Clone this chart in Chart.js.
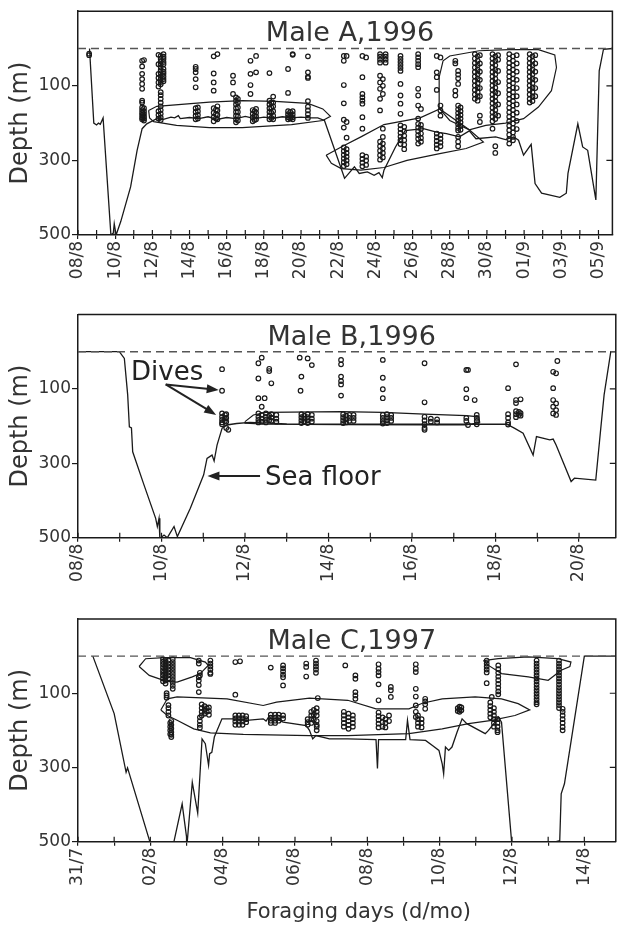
<!DOCTYPE html>
<html>
<head>
<meta charset="utf-8">
<script src="https://cdn.jsdelivr.net/npm/chart.js@4.4.1/dist/chart.umd.min.js"></script>
<style>
  body { margin: 0; background: #fff; width: 621px; height: 926px; position: relative; overflow: hidden; }
  canvas { position: absolute; left: 0; }
</style>
</head>
<body>
<canvas id="panelA" width="621" height="300" style="top:0"></canvas>
<canvas id="panelB" width="621" height="290" style="top:300px"></canvas>
<canvas id="panelC" width="621" height="336" style="top:590px"></canvas>
<script>
// ---- data ----
const yTicks = [100, 300, 500];

// x tick labels, one every 2 days (day 0 = first label)
const labelsA = ['08/8', '10/8', '12/8', '14/8', '16/8', '18/8', '20/8', '22/8', '24/8', '26/8', '28/8', '30/8', '01/9', '03/9', '05/9'];
const labelsB = ['08/8', '10/8', '12/8', '14/8', '16/8', '18/8', '20/8'];
const labelsC = ['31/7', '02/8', '04/8', '06/8', '08/8', '10/8', '12/8', '14/8'];

// sea floor depth [day, depth m]
const floorA = [[0.62, 0], [0.85, 200], [1.0, 205], [1.1, 200], [1.2, 203], [1.35, 186], [1.77, 500], [1.9, 495], [1.95, 470], [2.05, 500], [2.3, 464], [2.83, 371], [3.18, 273], [3.45, 215], [3.7, 202], [4.24, 188], [4.6, 190], [5.0, 184], [5.2, 186], [5.4, 180], [5.5, 188], [6.0, 185], [6.5, 188], [7.0, 183], [7.5, 190], [8.0, 185], [8.5, 188], [9.0, 182], [9.5, 188], [10.0, 184], [10.5, 187], [11.0, 183], [11.5, 186], [12.0, 184], [12.5, 186], [12.9, 186], [13.26, 193], [14.34, 348], [14.87, 317], [15.13, 335], [15.57, 331], [15.93, 340], [16.19, 333], [16.37, 346], [16.46, 326], [17.08, 264], [17.6, 220], [18.58, 215], [19.29, 224], [19.82, 228], [20.52, 237], [21.05, 221], [21.41, 242], [22.47, 237], [23.0, 244], [23.44, 237], [23.7, 246], [23.97, 286], [24.38, 257], [24.59, 362], [24.94, 388], [25.92, 399], [26.27, 388], [26.36, 335], [26.89, 202], [27.15, 264], [27.42, 273], [27.86, 406], [28.04, 60], [28.27, 2], [28.75, 0]];
const floorB = [[0, 0], [0.99, 0], [1.11, 18], [1.19, 116], [1.23, 202], [1.28, 205], [1.31, 269], [1.58, 358], [1.86, 448], [1.9, 470], [1.94, 448], [1.96, 502], [2.06, 493], [2.14, 500], [2.3, 470], [2.38, 497], [2.69, 421], [3.01, 331], [3.09, 287], [3.21, 278], [3.26, 294], [3.33, 251], [3.45, 206], [3.56, 197], [3.8, 193], [4.12, 190], [5.0, 194], [7.0, 195], [9.0, 195], [10.27, 195], [10.46, 206], [10.66, 219], [10.9, 278], [10.98, 228], [11.3, 237], [11.38, 235], [11.45, 251], [11.81, 349], [11.89, 340], [12.4, 345], [12.52, 206], [12.6, 116], [12.76, 0], [12.88, 0]];
const floorC = [[0.41, 0], [1.0, 155], [1.33, 313], [1.37, 301], [1.99, 501], [2.05, 560], [2.6, 560], [2.65, 501], [2.88, 398], [3.02, 501], [3.16, 340], [3.31, 423], [3.43, 223], [3.52, 236], [3.61, 294], [3.64, 263], [3.7, 259], [3.77, 218], [3.98, 169], [4.3, 169], [4.66, 173], [5.12, 169], [5.2, 175], [5.26, 166], [5.49, 169], [5.67, 178], [6.31, 187], [6.4, 200], [6.49, 223], [6.58, 214], [6.95, 223], [7.46, 223], [8.24, 225], [8.28, 303], [8.31, 225], [9.06, 225], [9.11, 173], [9.18, 225], [9.61, 227], [9.8, 241], [9.98, 254], [10.07, 290], [10.11, 317], [10.16, 245], [10.25, 254], [10.34, 245], [10.48, 205], [10.62, 169], [10.75, 182], [11.26, 209], [11.35, 200], [11.53, 178], [11.62, 164], [11.71, 178], [11.99, 501], [12.05, 560], [13.1, 560], [13.18, 501], [13.32, 497], [13.36, 371], [13.45, 344], [14.0, 0], [14.87, 0]];

// foraging area outlines [day, depth m]
const hullA1 = [[3.8, 166], [4.24, 155], [7.07, 144], [8.84, 140], [10.6, 142], [12.37, 147], [13.17, 162], [13.58, 182], [13.17, 193], [11.49, 204], [8.84, 212], [7.07, 212], [5.3, 206], [4.07, 196], [3.85, 186], [3.8, 166]];
const hullA2 = [[13.35, 286], [14.16, 264], [15.22, 237], [16.46, 204], [18.4, 186], [19.46, 162], [21.05, 218], [21.81, 251], [20.88, 268], [19.46, 282], [17.7, 300], [16.46, 319], [15.22, 326], [14.16, 322], [13.63, 308], [13.35, 286]];
const hullA3 = [[19.46, 162], [19.43, 77], [19.64, 33], [20.0, 20], [21.58, 6], [23.18, 3], [24.77, 3], [25.65, 17], [25.74, 51], [25.47, 113], [24.77, 157], [23.97, 188], [23.0, 200], [21.94, 206], [21.05, 218], [20.0, 193], [19.46, 162]];
const hullB = [[4.0, 188], [4.2, 170], [4.5, 163], [6.3, 161], [7.3, 163], [8.3, 168], [9.3, 172], [9.6, 175], [9.62, 190], [9.3, 197], [8.3, 197], [6.3, 196], [4.5, 195], [4.0, 192], [4.0, 188]];
const hullC1 = [[1.69, 28], [1.87, 7], [2.38, 4], [3.11, 4], [3.52, 16], [3.6, 25], [3.38, 47], [3.16, 56], [2.74, 70], [2.45, 68], [1.97, 52], [1.69, 28]];
const hullC2 = [[2.29, 145], [2.47, 115], [2.74, 110], [4.12, 115], [5.12, 133], [5.49, 124], [6.4, 113], [7.46, 119], [8.24, 142], [9.15, 142], [9.52, 127], [10.07, 115], [10.98, 110], [11.71, 115], [12.17, 128], [12.49, 145], [12.08, 160], [11.44, 173], [10.8, 182], [10.07, 196], [9.15, 209], [7.46, 214], [6.4, 214], [4.57, 211], [3.66, 207], [3.2, 196], [2.74, 173], [2.47, 160], [2.29, 145]];
const hullC3 = [[11.21, 12], [11.62, 7], [12.45, 2], [13.27, 7], [13.63, 16], [13.6, 28], [13.36, 38], [13.0, 65], [12.45, 56], [11.71, 47], [11.35, 25], [11.21, 12]];

// dives: [day, [depths m]]
const divesA = [
  [0.6, [14, 18]],
  [3.45, [33, 48, 68, 82, 95, 108, 140, 145, 158, 165, 172, 178, 185, 190]],
  [3.55, [31, 160, 168, 175, 182, 188, 193]],
  [4.33, [17, 42, 68, 79, 91, 102, 168, 178, 188]],
  [4.45, [20, 28, 35, 42, 50, 58, 66, 74, 82, 90, 96, 117, 125, 135, 145, 155, 165, 175, 185, 192]],
  [4.6, [15, 22, 28, 36, 42, 55, 62, 68, 75, 82, 88]],
  [6.33, [49, 55, 64, 82, 104, 160, 170, 180, 190]],
  [6.45, [158, 168, 178, 188]],
  [7.3, [21, 67, 91, 113, 160, 172, 184, 195]],
  [7.42, [164, 176, 188]],
  [7.5, [15, 155, 166, 178, 190]],
  [8.34, [73, 91, 122]],
  [8.5, [131, 140, 150, 160, 170, 180, 190, 198]],
  [8.6, [135, 145, 158, 170, 182, 193]],
  [9.28, [33, 68, 98, 122]],
  [9.4, [165, 175, 185, 195]],
  [9.5, [168, 180, 192]],
  [9.58, [20, 64, 162, 172, 182, 190]],
  [10.3, [66, 140, 150, 160, 170, 180, 190]],
  [10.4, [145, 158, 172, 186]],
  [10.5, [129, 145, 155, 168, 180, 190]],
  [11.3, [55, 119, 168, 176, 184, 190]],
  [11.42, [170, 180, 188]],
  [11.55, [15, 17, 168, 176, 184, 190]],
  [12.37, [21, 64, 76, 79, 141, 156, 166, 176, 186]],
  [14.3, [20, 33, 98, 147, 191, 212, 265, 275, 285, 295, 305, 315]],
  [14.45, [20, 197, 239, 270, 280, 290, 300, 310]],
  [15.3, [20, 77, 122, 131, 140, 148, 184, 215, 286, 296, 306, 316]],
  [15.5, [24, 290, 300, 312]],
  [16.25, [15, 22, 30, 38, 73, 91, 108, 135, 166, 250, 262, 274, 286, 298]],
  [16.4, [82, 100, 122, 215, 237, 255, 268, 280, 292]],
  [16.55, [15, 22, 30, 38]],
  [17.35, [20, 28, 36, 44, 52, 60, 95, 126, 148, 175, 206, 216, 226, 236, 246, 256]],
  [17.55, [210, 222, 234, 246, 258, 270]],
  [18.3, [15, 24, 33, 42, 50, 108, 126, 153, 188, 202, 212, 222, 232, 242, 255]],
  [18.45, [162, 205, 215, 228, 240, 250]],
  [19.3, [20, 64, 77, 111, 228, 238, 248, 258, 268]],
  [19.5, [24, 153, 166, 180, 232, 242, 252, 262]],
  [20.3, [33, 40, 113, 126]],
  [20.45, [60, 70, 80, 95, 153, 163, 173, 183, 193, 203, 213, 220, 237, 250, 262]],
  [20.58, [158, 168, 178, 188, 198, 208, 218]],
  [21.35, [15, 27, 39, 51, 63, 75, 87, 99, 111, 123, 135]],
  [21.5, [21, 33, 45, 57, 69, 81, 93, 105, 117, 129, 140]],
  [21.62, [18, 40, 62, 84, 106, 128, 180, 197]],
  [22.3, [15, 27, 39, 51, 63, 75, 87, 99, 111, 123, 135, 147, 159, 171, 183, 195, 215]],
  [22.45, [21, 33, 45, 57, 69, 81, 93, 105, 117, 129, 141, 153, 165, 177, 189, 262, 280]],
  [22.6, [18, 30, 60, 90, 120, 150, 180]],
  [23.2, [15, 27, 39, 51, 63, 75, 87, 99, 111, 123, 135, 147, 159, 171, 183, 195, 207, 219, 231, 243, 255]],
  [23.4, [21, 33, 45, 57, 69, 81, 93, 105, 117, 129, 141, 153, 165, 177, 189, 201, 213, 225, 237, 246]],
  [23.6, [18, 40, 62, 84, 106, 128, 150, 172, 194, 216]],
  [24.3, [15, 27, 39, 51, 63, 75, 87, 99, 111, 123, 135, 145]],
  [24.45, [21, 33, 45, 57, 69, 81, 93, 105, 117, 129, 141]],
  [24.6, [18, 40, 62, 84, 106, 128]]
];
const divesB = [
  [3.45, [47, 105, 166, 175, 183, 190, 195]],
  [3.52, [170, 180, 186]],
  [3.55, [168, 178, 188, 205]],
  [3.6, [210]],
  [4.32, [31, 72, 125, 166, 175, 183, 190]],
  [4.4, [16, 148, 170, 180, 188]],
  [4.47, [125]],
  [4.5, [166, 175, 183, 190]],
  [4.58, [46, 52, 172, 184]],
  [4.63, [85, 168, 177, 186]],
  [4.75, [170, 180, 188]],
  [5.31, [16]],
  [5.33, [105]],
  [5.35, [67, 168, 176, 184, 192]],
  [5.42, [172, 180, 188]],
  [5.5, [18, 168, 176, 184, 192]],
  [5.6, [36, 170, 180, 188]],
  [6.3, [22, 34, 67, 79, 88, 118]],
  [6.35, [168, 176, 184, 192]],
  [6.42, [172, 182, 190]],
  [6.5, [170, 178, 186]],
  [6.6, [170, 178, 186]],
  [7.3, [22, 70, 101, 125, 170, 178, 186, 193]],
  [7.4, [168, 176, 184, 192]],
  [7.5, [170, 178, 186]],
  [8.3, [31, 136, 175, 185, 195, 205, 210]],
  [8.45, [180, 188]],
  [8.6, [182, 190]],
  [9.3, [49, 101, 125, 178, 186]],
  [9.34, [49, 197]],
  [9.5, [130]],
  [9.55, [170, 178, 186, 195]],
  [10.3, [98, 168, 178, 190, 196]],
  [10.49, [34, 130, 138, 160, 168, 176]],
  [10.56, [162, 170]],
  [10.6, [128, 165, 172]],
  [11.38, [54, 98, 130, 148, 166]],
  [11.45, [58, 139, 157, 170]],
  [11.48, [25]]
];
const divesC = [
  [2.35, [8, 15, 22, 30, 38, 45, 52, 60, 68]],
  [2.42, [10, 18, 26, 34, 42, 50, 58, 66, 74]],
  [2.45, [100, 106, 112]],
  [2.5, [12, 20, 28, 36, 44, 52, 60, 132, 140, 150, 160]],
  [2.55, [180, 190, 200, 210]],
  [2.58, [175, 185, 195, 205, 212, 218]],
  [2.62, [8, 16, 24, 32, 40, 48, 56, 64, 72, 80, 88]],
  [3.34, [12, 20, 57, 66, 78, 97]],
  [3.37, [45, 52, 165, 175, 185, 193]],
  [3.42, [130, 140, 150, 160]],
  [3.5, [135, 145, 155]],
  [3.56, [140, 150]],
  [3.62, [138, 148, 158]],
  [3.66, [12, 20, 28, 36, 45, 48]],
  [4.35, [16, 104, 160, 168, 176, 185]],
  [4.45, [160, 168, 176, 185]],
  [4.48, [14]],
  [4.55, [160, 168, 176, 185]],
  [4.65, [162, 170, 178]],
  [5.33, [31, 158, 166, 174, 180]],
  [5.45, [158, 166, 174, 180]],
  [5.55, [158, 166, 174]],
  [5.67, [25, 33, 41, 50, 57, 79, 160, 168]],
  [6.31, [20, 29, 55]],
  [6.35, [170, 178, 185]],
  [6.45, [150, 160, 170, 180]],
  [6.52, [145, 158, 172]],
  [6.58, [12, 20, 28, 36, 45]],
  [6.6, [140, 150, 160, 175, 185, 190, 200]],
  [6.63, [113]],
  [7.35, [150, 160, 170, 180, 190]],
  [7.39, [25]],
  [7.48, [155, 165, 175, 185, 196]],
  [7.6, [160, 170, 180, 190]],
  [7.67, [52, 61, 97, 106, 115]],
  [8.31, [22, 34, 43, 52, 76, 119, 152, 162, 172, 182, 192]],
  [8.42, [165, 178, 190]],
  [8.5, [170, 180, 192]],
  [8.6, [160, 175]],
  [8.65, [83, 92, 110]],
  [9.34, [22, 34, 43, 88, 109, 133, 150, 164]],
  [9.4, [160, 170, 180, 190]],
  [9.5, [170, 180, 192]],
  [9.6, [115, 122, 130, 142]],
  [10.5, [140, 148]],
  [10.55, [136, 144, 150]],
  [10.6, [138, 146]],
  [11.3, [12, 20, 28, 36, 44, 73]],
  [11.4, [125, 135, 145, 155, 165]],
  [11.44, [110]],
  [11.5, [140, 150, 160, 170, 180, 190]],
  [11.6, [170, 180, 190, 200, 205]],
  [11.62, [25, 35, 45, 55, 65, 75, 85, 95, 103]],
  [12.68, [12, 20, 28, 36, 44, 52, 60, 68, 76, 84, 92, 100, 108, 116, 124, 130]],
  [13.3, [12, 20, 28, 36, 44, 52, 60, 68, 76, 84, 92, 100, 108, 116, 124, 132, 140]],
  [13.4, [142, 150, 160, 170, 180, 191, 200]]
];

// text callouts in panel B, placed in data coordinates
const notesB = [{ text: 'Dives', x: 1.27, y: 76 }, { text: 'Sea floor', x: 4.48, y: 358 }];
const arrowsB = [[2.1, 88, 3.37, 103], [2.1, 88, 3.31, 170], [4.36, 334, 3.1, 334]];

const FONT = 'DejaVu Sans';
const INK = '#1a1a1a';
const TEXT = '#333';

function makePanel(id, p) {
  const canvas = document.getElementById(id);
  const H = canvas.height;
  const lastDay = (p.labels.length - 1) * 2;
  const toXY = arr => arr.map(pt => ({ x: pt[0], y: pt[1] }));

  const divePoints = [];
  p.dives.forEach(col => col[1].forEach(depth => divePoints.push({ x: col[0], y: depth })));

  const lineDs = (data, extra) => Object.assign({
    data: data, showLine: true, pointRadius: 0, borderColor: INK, borderWidth: 1.2, fill: false
  }, extra);

  const datasets = [
    lineDs([{ x: 0, y: 0 }, { x: p.xMax, y: 0 }], { borderColor: '#555', borderWidth: 1.4, borderDash: [8, 5] }),
    lineDs(toXY(p.floor), { borderWidth: 1.3 }),
    ...p.hulls.map(h => lineDs(toXY(h))),
    {
      data: divePoints, showLine: false, pointRadius: 2.3, pointBorderWidth: 1.2,
      pointBorderColor: '#1a1a1a', pointBackgroundColor: 'rgba(255,255,255,0)'
    }
  ];

  const decor = {
    id: 'decor',
    afterDraw(chart) {
      const { ctx, chartArea: a } = chart;
      const x = chart.scales.x, y = chart.scales.y;
      ctx.save();
      // top and right frame
      ctx.strokeStyle = INK;
      ctx.lineWidth = 1.5;
      ctx.beginPath();
      ctx.moveTo(a.left, a.top);
      ctx.lineTo(a.right, a.top);
      ctx.lineTo(a.right, a.bottom);
      ctx.stroke();
      // inner halves of the day ticks and right-side depth ticks
      ctx.lineWidth = 1.2;
      ctx.beginPath();
      x.ticks.forEach(t => {
        const px = x.getPixelForValue(t.value);
        ctx.moveTo(px, a.bottom);
        ctx.lineTo(px, a.bottom - 5);
      });
      yTicks.forEach(v => {
        if (v >= 500) return;
        const py = y.getPixelForValue(v);
        ctx.moveTo(a.right, py);
        ctx.lineTo(a.right - 6, py);
      });
      ctx.stroke();

      // panel title
      ctx.fillStyle = TEXT;
      ctx.font = '27px "' + FONT + '"';
      ctx.textAlign = 'center';
      ctx.textBaseline = 'alphabetic';
      ctx.fillText(p.title, a.left + (a.right - a.left) * 0.509, a.top + 30);

      // callouts
      (p.notes || []).forEach(n => {
        ctx.font = '26px "' + FONT + '"';
        ctx.textAlign = 'left';
        ctx.fillStyle = '#222';
        ctx.fillText(n.text, x.getPixelForValue(n.x), y.getPixelForValue(n.y));
      });
      (p.arrows || []).forEach(ar => {
        const x0 = x.getPixelForValue(ar[0]), y0 = y.getPixelForValue(ar[1]);
        const x1 = x.getPixelForValue(ar[2]), y1 = y.getPixelForValue(ar[3]);
        const ang = Math.atan2(y1 - y0, x1 - x0);
        const len = 12, half = 4.5;
        ctx.strokeStyle = '#222';
        ctx.lineWidth = 2;
        ctx.beginPath();
        ctx.moveTo(x0, y0);
        ctx.lineTo(x1 - Math.cos(ang) * len * 0.8, y1 - Math.sin(ang) * len * 0.8);
        ctx.stroke();
        ctx.fillStyle = '#222';
        ctx.beginPath();
        ctx.moveTo(x1, y1);
        ctx.lineTo(x1 - Math.cos(ang) * len - Math.sin(ang) * half, y1 - Math.sin(ang) * len + Math.cos(ang) * half);
        ctx.lineTo(x1 - Math.cos(ang) * len + Math.sin(ang) * half, y1 - Math.sin(ang) * len - Math.cos(ang) * half);
        ctx.closePath();
        ctx.fill();
      });

      // x axis title (bottom panel only)
      if (p.xTitle) {
        ctx.fillStyle = TEXT;
        ctx.font = '21px "' + FONT + '"';
        ctx.textAlign = 'center';
        ctx.fillText(p.xTitle, a.left + (a.right - a.left) * 0.522, a.bottom + 76);
      }
      ctx.restore();
    }
  };

  return new Chart(canvas.getContext('2d'), {
    type: 'scatter',
    data: { datasets: datasets },
    plugins: [decor],
    options: {
      responsive: false,
      animation: false,
      devicePixelRatio: 1,
      events: [],
      layout: { padding: { top: p.padTop, left: 0, right: 1, bottom: 0 } },
      plugins: { legend: { display: false }, tooltip: { enabled: false } },
      scales: {
        x: {
          type: 'linear',
          min: 0,
          max: p.xMax,
          afterBuildTicks: s => {
            const t = [];
            for (let d = 0; d <= lastDay; d++) t.push({ value: d });
            s.ticks = t;
          },
          afterFit: s => { s.height = H - p.areaBottom; },
          ticks: {
            autoSkip: false,
            minRotation: 90,
            maxRotation: 90,
            padding: 2,
            color: TEXT,
            font: { family: FONT, size: 17 },
            callback: v => (v % 2 === 0 ? p.labels[v / 2] : '')
          },
          grid: { drawOnChartArea: false, drawTicks: true, tickLength: 4, color: INK, lineWidth: 1.2 },
          border: { display: true, color: INK, width: 1.5 }
        },
        y: {
          type: 'linear',
          reverse: true,
          min: -100,
          max: 500,
          afterBuildTicks: s => { s.ticks = yTicks.map(v => ({ value: v })); },
          afterFit: s => { s.width = 78; },
          ticks: { padding: 1, color: TEXT, font: { family: FONT, size: 17 } },
          grid: { drawOnChartArea: false, drawTicks: true, tickLength: 6, color: INK, lineWidth: 1.2 },
          border: { display: true, color: INK, width: 1.5 },
          title: {
            display: true, text: 'Depth (m)', color: TEXT,
            font: { family: FONT, size: 24 }, padding: { top: 6, bottom: 0 }
          }
        }
      }
    }
  });
}

makePanel('panelA', {
  title: 'Male A,1996', labels: labelsA, xMax: 28.75, padTop: 10, areaBottom: 235,
  floor: floorA, hulls: [hullA1, hullA2, hullA3], dives: divesA
});
makePanel('panelB', {
  title: 'Male B,1996', labels: labelsB, xMax: 12.88, padTop: 14.5, areaBottom: 237.7,
  floor: floorB, hulls: [hullB], dives: divesB, notes: notesB, arrows: arrowsB
});
makePanel('panelC', {
  title: 'Male C,1997', labels: labelsC, xMax: 14.87, padTop: 29, areaBottom: 251.7,
  floor: floorC, hulls: [hullC1, hullC2, hullC3], dives: divesC, xTitle: 'Foraging days (d/mo)'
});
</script>
</body>
</html>
